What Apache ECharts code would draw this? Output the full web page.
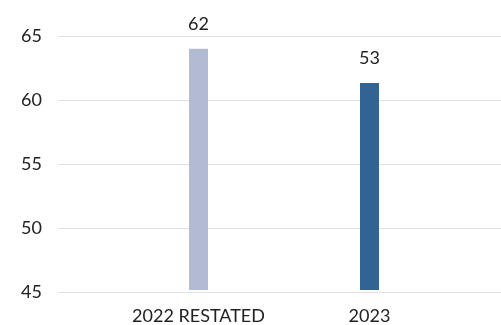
<!DOCTYPE html>
<html>
<head>
<meta charset="utf-8">
<script src="https://cdn.jsdelivr.net/npm/echarts@6/dist/echarts.min.js"></script>
<style>
  html, body { margin: 0; padding: 0; background: #fff; }
  #main { width: 501px; height: 325px; }
</style>
</head>
<body>
<div id="main"></div>
<script>
// chart data
var categories = ['2022 RESTATED', '2023']
var barValues = [64, 61.3]
var labelValues = [62, 53]
var barColors = ['#b3bad4', '#316394']
var yTicks = [45, 50, 55, 60, 65]

var font = 'Lato, "Noto Sans", sans-serif'
var myChart = echarts.init(document.getElementById('main'))

var option = {
  animation: false,
  textStyle: { fontFamily: font },
  grid: [
    { left: 58, right: 0, top: 36, bottom: 33 },
    { left: 113, right: 46, top: 36, bottom: 33 }
  ],
  xAxis: [
    { gridIndex: 0, type: 'category', data: categories, show: false },
    {
      gridIndex: 1,
      type: 'category',
      data: categories,
      axisLine: { show: false },
      axisTick: { show: false },
      axisLabel: { color: '#222', fontSize: 18, margin: 17, interval: 0, hideOverlap: false, fontFamily: font }
    }
  ],
  yAxis: [
    {
      gridIndex: 0,
      type: 'value',
      min: yTicks[0],
      max: yTicks[yTicks.length - 1],
      interval: 5,
      axisLine: { show: false },
      axisTick: { show: false },
      splitLine: { lineStyle: { color: '#e0e0e0', width: 1 } },
      axisLabel: { color: '#222', fontSize: 18, margin: 16, fontFamily: font }
    },
    {
      gridIndex: 1,
      type: 'value',
      min: yTicks[0],
      max: yTicks[yTicks.length - 1],
      interval: 5,
      show: false
    }
  ],
  series: [{
    type: 'bar',
    xAxisIndex: 1,
    yAxisIndex: 1,
    barWidth: 19,
    data: barValues.map(function (v, i) {
      return { value: v, itemStyle: { color: barColors[i] } }
    }),
    label: {
      show: true,
      position: 'top',
      distance: 16,
      color: '#222',
      fontSize: 18,
      fontFamily: font,
      formatter: function (p) { return labelValues[p.dataIndex] }
    }
  }]
}

myChart.setOption(option)
</script>
</body>
</html>
